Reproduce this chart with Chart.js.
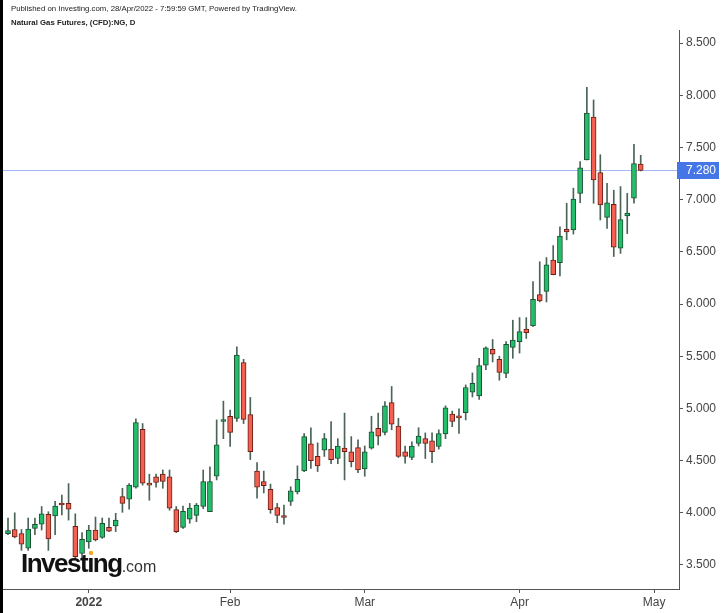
<!DOCTYPE html>
<html><head><meta charset="utf-8">
<script src="https://cdn.jsdelivr.net/npm/chart.js@4"></script>
<style>
html,body{margin:0;padding:0;background:#fff;}
#wrap{position:relative;width:725px;height:613px;overflow:hidden;background:#fff;}
#c{position:absolute;left:0;top:0;}
.hdr{position:absolute;left:11px;font-family:"Liberation Sans",Arial,sans-serif;font-size:7.8px;line-height:9px;color:#222;white-space:nowrap;}
#border{position:absolute;left:0;top:0;width:3px;height:613px;background:#000;}
#logo{position:absolute;left:21px;top:550px;white-space:nowrap;font-family:"Liberation Sans",Arial,sans-serif;font-size:26px;line-height:26px;}
#logo .a{font-weight:bold;letter-spacing:-1.5px;color:#111;}
#logo .b{font-size:16px;color:#333;}
#dot{position:absolute;left:89px;top:551px;width:4px;height:4px;background:#f5a623;border-radius:1px;}
</style></head>
<body>
<div id="wrap">
<canvas id="c" width="725" height="613"></canvas>
<div class="hdr" style="top:3.5px;">Published on Investing.com, 28/Apr/2022 - 7:59:59 GMT, Powered by TradingView.</div>
<div class="hdr" style="top:18px;font-weight:bold;">Natural Gas Futures, (CFD):NG, D</div>
<div id="logo"><span class="a">Investıng</span><span class="b">.com</span></div>
<div id="dot"></div>
<div id="border"></div>
</div>
<script>
const dates = [
 '2021-12-15','2021-12-16','2021-12-17','2021-12-20','2021-12-21','2021-12-22','2021-12-23','2021-12-27','2021-12-28','2021-12-29','2021-12-30','2021-12-31',
 '2022-01-03','2022-01-04','2022-01-05','2022-01-06','2022-01-07','2022-01-10','2022-01-11','2022-01-12','2022-01-13','2022-01-14','2022-01-17','2022-01-18','2022-01-19','2022-01-20','2022-01-21','2022-01-24','2022-01-25','2022-01-26','2022-01-27','2022-01-28','2022-01-31',
 '2022-02-01','2022-02-02','2022-02-03','2022-02-04','2022-02-07','2022-02-08','2022-02-09','2022-02-10','2022-02-11','2022-02-14','2022-02-15','2022-02-16','2022-02-17','2022-02-18','2022-02-21','2022-02-22','2022-02-23','2022-02-24','2022-02-25','2022-02-28',
 '2022-03-01','2022-03-02','2022-03-03','2022-03-04','2022-03-07','2022-03-08','2022-03-09','2022-03-10','2022-03-11','2022-03-14','2022-03-15','2022-03-16','2022-03-17','2022-03-18','2022-03-21','2022-03-22','2022-03-23','2022-03-24','2022-03-25','2022-03-28','2022-03-29','2022-03-30','2022-03-31',
 '2022-04-01','2022-04-04','2022-04-05','2022-04-06','2022-04-07','2022-04-08','2022-04-11','2022-04-12','2022-04-13','2022-04-14','2022-04-18','2022-04-19','2022-04-20','2022-04-21','2022-04-22','2022-04-25','2022-04-26','2022-04-27','2022-04-28'
];
const opens = [3.80,3.84,3.80,3.66,3.85,3.89,3.985,3.97,4.085,4.09,3.87,3.61,
 3.72,3.835,3.765,3.86,3.875,4.155,4.13,4.245,4.80,4.27,4.345,4.37,4.345,4.03,3.86,3.94,3.975,4.06,4.01,4.35,4.875,
 4.925,4.905,5.44,4.94,4.40,4.30,4.225,4.05,3.96,4.11,4.20,4.40,4.66,4.54,4.60,4.61,4.52,4.62,4.585,4.625,
 4.42,4.62,4.81,4.77,5.055,4.83,4.585,4.53,4.665,4.71,4.69,4.635,4.755,4.945,4.915,4.96,5.155,5.12,5.415,5.565,5.47,5.335,5.585,
 5.64,5.76,5.79,6.09,6.12,6.42,6.395,6.715,6.71,7.06,7.38,7.79,7.26,6.83,6.955,6.535,6.845,7.015,7.34];
const highs = [3.95,4.00,3.84,3.95,3.95,4.06,4.01,4.11,4.17,4.28,3.99,3.81,
 3.88,3.96,3.95,3.95,3.995,4.235,4.28,4.90,4.855,4.37,4.37,4.41,4.41,4.06,4.065,4.09,4.09,4.41,4.44,4.89,5.07,
 4.985,5.59,5.47,5.105,4.48,4.40,4.275,4.09,4.075,4.25,4.45,4.76,4.815,4.67,4.76,4.875,4.71,4.955,4.73,4.70,
 4.64,4.925,4.955,5.065,5.21,4.905,4.64,4.68,4.815,4.765,4.765,4.795,5.025,4.975,4.995,5.225,5.34,5.48,5.59,5.66,5.50,5.64,5.845,
 5.87,5.87,6.215,6.405,6.445,6.56,6.74,6.965,7.11,7.365,8.075,7.955,7.43,7.155,7.09,7.125,7.06,7.53,7.425];
const lows = [3.79,3.76,3.64,3.64,3.79,3.835,3.64,3.79,3.98,3.93,3.55,3.56,
 3.66,3.73,3.755,3.82,3.82,4.005,4.035,4.235,4.265,4.12,4.245,4.235,4.025,3.81,3.85,3.90,3.915,4.04,4.01,4.315,4.71,
 4.635,4.875,4.855,4.51,4.14,4.19,3.995,3.905,3.89,4.07,4.18,4.395,4.425,4.395,4.54,4.47,4.47,4.315,4.44,4.385,
 4.35,4.61,4.65,4.745,4.795,4.53,4.475,4.51,4.64,4.52,4.48,4.61,4.71,4.825,4.76,4.89,5.11,5.085,5.37,5.445,5.27,5.295,5.48,
 5.53,5.67,5.785,6.02,6.02,6.28,6.27,6.615,6.67,6.97,7.38,6.965,6.805,6.725,6.455,6.485,6.675,6.965,7.275];
const closes = [3.83,3.77,3.70,3.845,3.89,3.99,3.75,4.065,4.075,4.035,3.58,3.745,
 3.835,3.74,3.90,3.825,3.93,4.09,4.265,4.865,4.285,4.265,4.29,4.30,4.045,3.82,4.015,4.045,4.075,4.30,4.30,4.65,4.885,
 4.77,5.51,4.895,4.585,4.245,4.26,4.03,3.975,3.955,4.21,4.32,4.73,4.50,4.45,4.71,4.51,4.64,4.585,4.49,4.41,
 4.585,4.775,4.735,5.025,4.85,4.54,4.54,4.64,4.735,4.665,4.585,4.76,5.005,4.875,4.91,5.20,5.24,5.41,5.58,5.52,5.345,5.615,5.655,
 5.735,5.725,6.045,6.03,6.375,6.28,6.65,6.69,7.005,7.305,7.83,7.19,6.95,6.97,6.545,6.81,6.87,7.345,7.28];
const monthTickIndex = [12,33,53,76,96];
const monthTickLabels = ['2022','Feb','Mar','Apr','May'];
const priceTicks = [3.5,4.0,4.5,5.0,5.5,6.0,6.5,7.0,7.5,8.0,8.5];
const lastPrice = 7.28;

const UP_FILL='#22be69', UP_LINE='#1b4f33', DN_FILL='#f4604f', DN_LINE='#6a1f18', WICK='#4a6456';
const isUp = i => closes[i] >= opens[i];
const bodies = opens.map((o,i)=>({x:i, y:[o, closes[i]]}));
const wicks = lows.map((l,i)=>({x:i, y:[l, highs[i]]}));

const priceLine = {
  id:'priceLine',
  beforeDatasetsDraw(chart){
    const c=chart.ctx, a=chart.chartArea, y=Math.round(chart.scales.y.getPixelForValue(lastPrice))+0.5;
    c.save(); c.strokeStyle='rgba(90,130,240,0.55)'; c.lineWidth=1;
    c.beginPath(); c.moveTo(a.left,y); c.lineTo(a.right,y); c.stroke(); c.restore();
  },
  afterDraw(chart){
    const c=chart.ctx, a=chart.chartArea, y=chart.scales.y.getPixelForValue(lastPrice);
    c.save(); c.fillStyle='#4476e8';
    c.fillRect(a.right-2, Math.round(y)-8, 42, 17);
    c.fillStyle='#fff'; c.font='12px "Liberation Sans", Arial, sans-serif';
    c.textBaseline='middle'; c.textAlign='left';
    c.fillText(lastPrice.toFixed(3), a.right+7, Math.round(y)+0.5);
    c.restore();
  }
};

new Chart(document.getElementById('c'), {
  type:'bar',
  data:{datasets:[
    {label:'body', data:bodies, grouped:false, barThickness:5, minBarLength:2,
     backgroundColor:c=>isUp(c.dataIndex)?UP_FILL:DN_FILL,
     borderColor:c=>isUp(c.dataIndex)?UP_LINE:DN_LINE,
     borderWidth:1, borderSkipped:false},
    {label:'wick', data:wicks, grouped:false, barThickness:1, backgroundColor:WICK, borderWidth:0}
  ]},
  options:{
    responsive:false, animation:false, devicePixelRatio:1,
    layout:{padding:{left:3, top:30, right:0, bottom:0}},
    plugins:{legend:{display:false}, tooltip:{enabled:false}},
    scales:{
      x:{type:'linear', min:-0.743, max:99.69, offset:false,
         grid:{display:true, offset:false, drawOnChartArea:false, drawTicks:true, tickLength:4, color:'#555'},
         border:{display:true, color:'#555'},
         afterBuildTicks:s=>{ s.ticks = monthTickIndex.map(v=>({value:v})); },
         afterFit:s=>{ s.height=24; },
         ticks:{autoSkip:false, maxRotation:0, padding:2, color:'#444',
           font:ctx=>({family:'"Liberation Sans", Arial, sans-serif', size:12, weight:(ctx.tick && ctx.tick.value===12)?'bold':'normal'}),
           callback:v=>{ const k=monthTickIndex.indexOf(v); return k>=0?monthTickLabels[k]:''; }}
      },
      y:{type:'linear', position:'right', min:3.27, max:8.625,
         grid:{drawOnChartArea:false, drawTicks:true, tickLength:4, color:'#555'},
         border:{display:true, color:'#555'},
         afterBuildTicks:s=>{ s.ticks = priceTicks.map(v=>({value:v})); },
         afterFit:s=>{ s.width=46; },
         ticks:{padding:3, color:'#444', font:{family:'"Liberation Sans", Arial, sans-serif', size:12},
           callback:v=>Number(v).toFixed(3)}
      }
    }
  },
  plugins:[priceLine]
});
</script>
</body></html>
